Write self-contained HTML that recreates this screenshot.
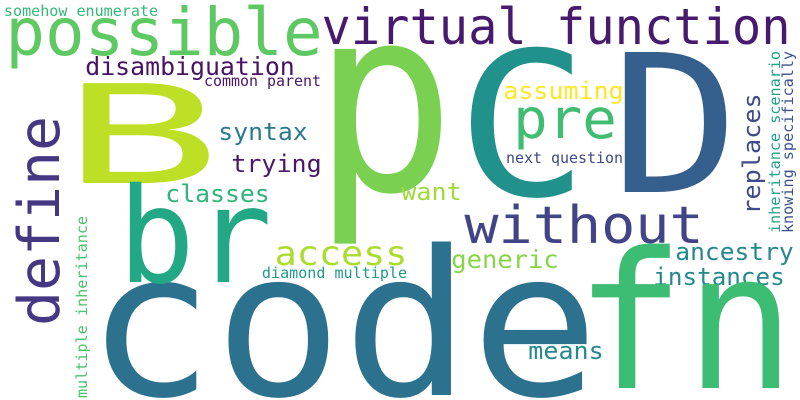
<!DOCTYPE html>
<html><head><meta charset="utf-8">
<style>
html,body{margin:0;padding:0;background:#fff;width:800px;height:400px;overflow:hidden;}
svg{display:block;}
text{font-family:"DejaVu Sans Mono","Liberation Mono",monospace;}
</style></head>
<body>
<svg id="cloud" width="800" height="400" viewBox="0 0 800 400" xmlns="http://www.w3.org/2000/svg" overflow="hidden">
<rect width="800" height="400" fill="#ffffff"/>
</svg>
<script>
const words = ["somehow enumerate","possible","virtual function","disambiguation","common parent","syntax","trying","classes","B","p","C","D","pre","assuming","next question","want","access","diamond multiple","without","generic","ancestry","instances","means","code","fn","br","define","multiple inheritance","replaces","inheritance scenario","knowing specifically"];
const fontSizes = [15,66,50,25,15,24,24,24,137,258,200,192,55,24,15,24,34,15,52,25,24,24,24,202,190,132,57,15,24,15,15];
const colors = ["#35b779","#5ec962","#471a6d","#471365","#481769","#297a8e","#48186a","#2fb47c","#bddf26","#7ad151","#21918c","#355f8d","#40bd72","#fde725","#3e4a89","#a0da39","#addc30","#1f9a8a","#414487","#86d549","#24878e","#23898e","#23898e","#2c728e","#3dbc74","#22a884","#453781","#4ac16d","#3e4a89","#20a386","#3b528b"];
// layout: [inkStart, inkEnd, baseline, vertical]
const layout = [
 [5,157,16,0],[10,318,55,0],[325,787,44,0],[87,293,75,0],[205,320,86,0],
 [220,306,140,0],[233,320,172,0],[167,268,202,0],[70,213,183,0],[328,440,190,0],
 [468,577,195,0],[622,728,192,0],[517,613,138,0],[505,622,99,0],[507,622,163,0],
 [403,460,200,0],[277,405,265,0],[263,406,278,0],[468,700,243,0],[453,557,268,0],
 [677,792,260,0],[655,783,285,0],[530,602,359,0],[100,585,395,0],[588,782,388,0],
 [127,263,282,0],
 [322,120,59,1],[397,217,87,1],[213,95,760,1],[232,52,780,1],[232,52,793,1]
];
const svg = document.getElementById('cloud');
const NS = "http://www.w3.org/2000/svg";
for (let i = 0; i < words.length; i++) {
  const s = fontSizes[i];
  const L = layout[i];
  const t = document.createElementNS(NS, 'text');
  t.textContent = words[i];
  t.setAttribute('font-size', s);
  t.setAttribute('fill', colors[i]);
  t.setAttribute('lengthAdjust', 'spacingAndGlyphs');
  const pad = (words[i].length === 1 ? 0.06 : 0.07) * s;
  if (!L[3]) {
    t.setAttribute('x', L[0] - pad);
    t.setAttribute('y', L[2]);
    t.setAttribute('textLength', (L[1] - L[0]) + 2 * pad);
  } else {
    t.setAttribute('x', 0);
    t.setAttribute('y', 0);
    t.setAttribute('textLength', (L[0] - L[1]) + 2 * pad);
    t.setAttribute('transform', 'translate(' + L[2] + ',' + (L[0] + pad) + ') rotate(-90)');
  }
  
  
  svg.appendChild(t);
}
</script>
</body></html>
